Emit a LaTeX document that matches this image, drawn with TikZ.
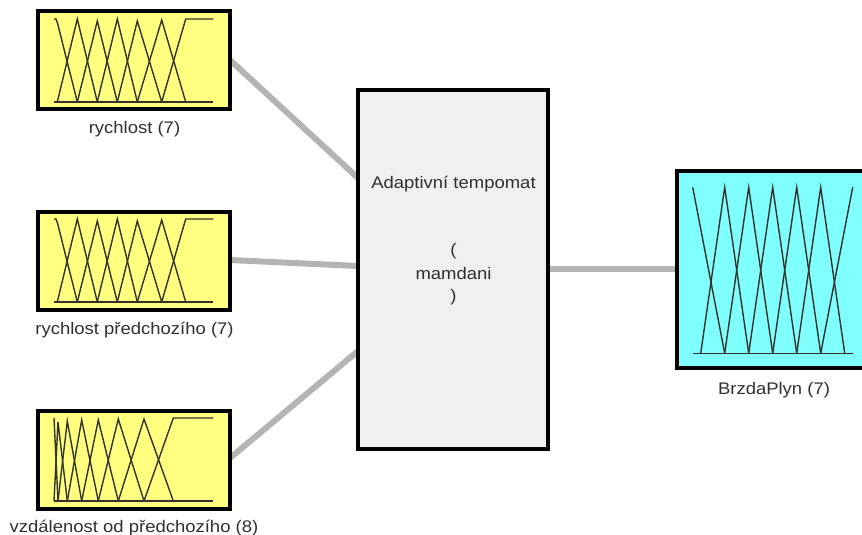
\documentclass[tikz,border=0pt]{standalone}
\usepackage{fontspec}
\setmainfont[FakeStretch=1.1]{Liberation Sans}
\definecolor{mfyellow}{HTML}{FFFF80}
\definecolor{mfcyan}{HTML}{80FFFF}
\definecolor{fisgrey}{HTML}{F0F0F0}
\definecolor{linkgrey}{HTML}{B4B4B4}
\definecolor{txt}{HTML}{303030}
\definecolor{mfline}{HTML}{33332A}
\tikzset{
  x=1bp,y=-1bp,
  blk/.style={draw=black,line width=4bp,rectangle,inner sep=0pt,outer sep=0pt,anchor=north west},
  inbox/.style={blk,fill=mfyellow,minimum width=191.5bp,minimum height=98bp},
  outbox/.style={blk,fill=mfcyan,minimum width=194bp,minimum height=197bp},
  fisbox/.style={blk,fill=fisgrey,minimum width=190bp,minimum height=359bp},
  link/.style={draw=linkgrey,line width=6bp},
  mf/.style={draw=mfline,line width=1.4bp,line join=miter},
  lbl/.style={font=\fontsize{16.8bp}{20bp}\selectfont,text=txt,inner sep=0pt,anchor=center},
}
\begin{document}
\begin{tikzpicture}
\useasboundingbox (0,0) rectangle (862,535);
\clip (0,0) rectangle (862,535);
\coordinate (f1) at (358,178);
\coordinate (f2) at (358,266);
\coordinate (f3) at (358,351);
\coordinate (o1) at (230,60);
\coordinate (o2) at (230,260);
\coordinate (o3) at (230,458);
\coordinate (r1) at (548,269);
\coordinate (r2) at (677,269);
\draw[link] (o1) -- (f1);
\draw[link] (o2) -- (f2);
\draw[link] (o3) -- (f3);
\draw[link] (r1) -- (r2);
\node[inbox] (in1) at (38,11) {};
\node[inbox] (in2) at (38,212) {};
\node[inbox] (in3) at (38,411) {};
\node[fisbox] (fis) at (358,90) {};
\node[outbox] (out) at (677,171) {};
% input 1
\draw[mf] (54,19) -- (56,19) -- (57.5,23) -- (77.3,102);
\draw[mf] (57.3,102) -- (77.3,19) -- (97.3,102);
\draw[mf] (77.3,102) -- (97.3,21) -- (117.3,102);
\draw[mf] (97.3,102) -- (117.3,19) -- (137.3,102);
\draw[mf] (117.3,102) -- (137.3,21) -- (161.7,102);
\draw[mf] (137.3,102) -- (161.7,20) -- (185.7,102);
\draw[mf] (161.7,102) -- (185.7,19) -- (213.3,19);
\draw[mf] (54,102) -- (213.3,102);
% input 2
\draw[mf] (54,219) -- (56,219) -- (57.5,223) -- (77.3,302);
\draw[mf] (57.3,302) -- (77.3,219) -- (97.3,302);
\draw[mf] (77.3,302) -- (97.3,221) -- (117.3,302);
\draw[mf] (97.3,302) -- (117.3,219) -- (137.3,302);
\draw[mf] (117.3,302) -- (137.3,221) -- (161.7,302);
\draw[mf] (137.3,302) -- (161.7,220) -- (185.7,302);
\draw[mf] (161.7,302) -- (185.7,219) -- (213.3,219);
\draw[mf] (54,302) -- (213.3,302);
% input 3
\draw[mf] (54,418) -- (58,501);
\draw[mf] (54,501) -- (58,422) -- (67.3,501);
\draw[mf] (58,501) -- (67.3,421) -- (81.7,501);
\draw[mf] (67.3,501) -- (81.7,420) -- (98.3,501);
\draw[mf] (81.7,501) -- (98.3,420) -- (118.3,501);
\draw[mf] (98.3,501) -- (118.3,419) -- (144,501);
\draw[mf] (118.3,501) -- (144,419) -- (173.3,501);
\draw[mf] (144,501) -- (173.3,418) -- (213.3,418);
\draw[mf] (54,501) -- (213.3,501);
% output
\draw[mf] (692.7,187.3) -- (724.7,353.3);
\draw[mf] (700.7,353.3) -- (724.7,187.3) -- (748.7,353.3);
\draw[mf] (724.7,353.3) -- (748.7,187.3) -- (772.7,353.3);
\draw[mf] (748.7,353.3) -- (772.7,187.3) -- (796.7,353.3);
\draw[mf] (772.7,353.3) -- (796.7,187.3) -- (820.7,353.3);
\draw[mf] (796.7,353.3) -- (820.7,187.3) -- (844.7,353.3);
\draw[mf] (820.7,353.3) -- (852.7,187.3);
\draw[mf] (692.7,353.3) -- (852.7,353.3);
% labels
\node[lbl] (l1) at (134.5,129.5) {rychlost (7)};
\node[lbl] (l2) at (134.5,330.5) {rychlost předchozího (7)};
\node[lbl] (l3) at (134,528) {vzdálenost od předchozího (8)};
\node[lbl] (l4) at (774,390.5) {BrzdaPlyn (7)};
\node[lbl] (t1) at (453.5,184) {Adaptivní tempomat};
\node[lbl] (t2) at (453.5,251) {(};
\node[lbl] (t3) at (453.5,273) {mamdani};
\node[lbl] (t4) at (453.5,297) {)};
\end{tikzpicture}
\end{document}
